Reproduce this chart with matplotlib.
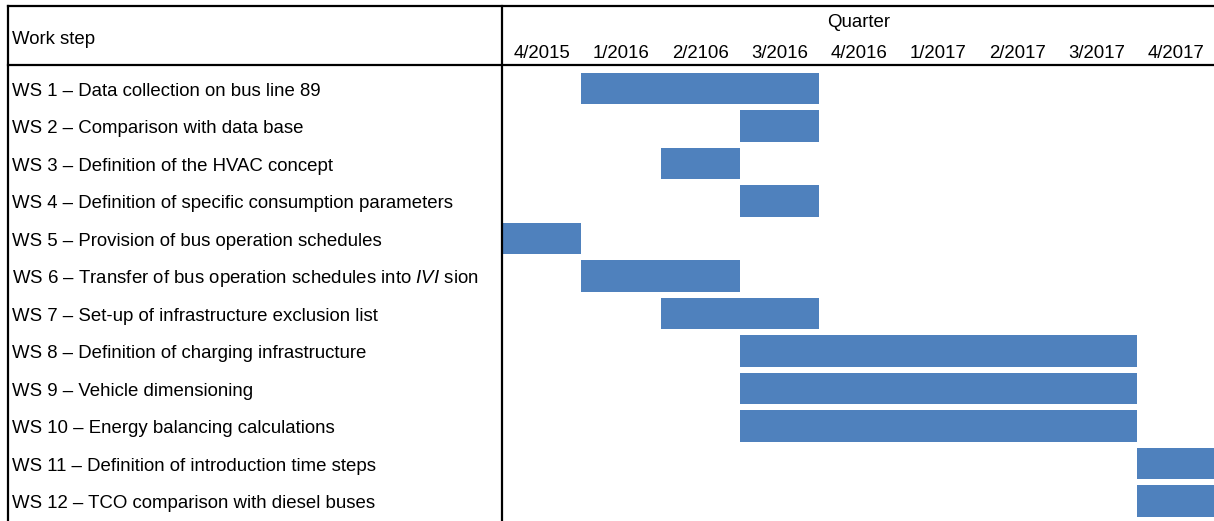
import matplotlib
matplotlib.use("Agg")
import matplotlib.pyplot as plt
from matplotlib.lines import Line2D
from matplotlib.transforms import blended_transform_factory

plt.rcParams['font.family'] = ['Liberation Sans', 'DejaVu Sans']
plt.rcParams['mathtext.fontset'] = 'custom'
plt.rcParams['mathtext.rm'] = 'Liberation Sans'
plt.rcParams['mathtext.it'] = 'Liberation Sans:italic'

# data
quarters = ['4/2015', '1/2016', '2/2106', '3/2016', '4/2016',
            '1/2017', '2/2017', '3/2017', '4/2017']
steps = [
    'WS 1 – Data collection on bus line 89',
    'WS 2 – Comparison with data base',
    'WS 3 – Definition of the HVAC concept',
    'WS 4 – Definition of specific consumption parameters',
    'WS 5 – Provision of bus operation schedules',
    r'WS 6 – Transfer of bus operation schedules into $\mathit{IVI}$ sion',
    'WS 7 – Set-up of infrastructure exclusion list',
    'WS 8 – Definition of charging infrastructure',
    'WS 9 – Vehicle dimensioning',
    'WS 10 – Energy balancing calculations',
    'WS 11 – Definition of introduction time steps',
    'WS 12 – TCO comparison with diesel buses',
]
start = [1, 3, 2, 3, 0, 1, 2, 3, 3, 3, 8, 8]      # quarter index
duration = [3, 1, 1, 1, 1, 2, 2, 5, 5, 5, 1, 1]   # number of quarters

W, H = 1214, 521
fx = lambda px: px / W
fy = lambda py: 1 - py / H
FS = 13.4

fig = plt.figure(figsize=(W / 100, H / 100), dpi=100)

# gantt area
ax = fig.add_axes([fx(502), 0, (1216 - 502) / W, (H - 65) / H])
ax.set_xlim(0, len(quarters))
row_h = 37.5
ax.set_ylim((H - 88.5) / row_h, (65 - 88.5) / row_h)
ax.barh(range(len(steps)), duration, left=start, height=0.85,
        color='#4F81BD', edgecolor='none')
ax.axis('off')

# header
fig.text(fx(12), fy(43.5), 'Work step', fontsize=FS, va='baseline', ha='left')
fig.text(fx(859), fy(27), 'Quarter', fontsize=FS, va='baseline', ha='center')
tq = blended_transform_factory(ax.transData, fig.transFigure)
for i, q in enumerate(quarters):
    ax.text(i + 0.5, fy(57.5), q, transform=tq, fontsize=FS,
            va='baseline', ha='center')

# row labels
tr = blended_transform_factory(fig.transFigure, ax.transData)
for i, s in enumerate(steps):
    fig.text(fx(12), i + 7.5 / row_h, s, transform=tr, fontsize=FS,
             va='baseline', ha='left')

# table lines
lk = dict(transform=fig.transFigure, color='black', lw=1.6)
fig.add_artist(Line2D([fx(8), 1], [fy(6), fy(6)], **lk))
fig.add_artist(Line2D([fx(8), 1], [fy(65), fy(65)], **lk))
fig.add_artist(Line2D([fx(8), fx(8)], [fy(6), 0], **lk))
fig.add_artist(Line2D([fx(502), fx(502)], [fy(6), 0], **lk))

fig.savefig('out.png', dpi=100)
